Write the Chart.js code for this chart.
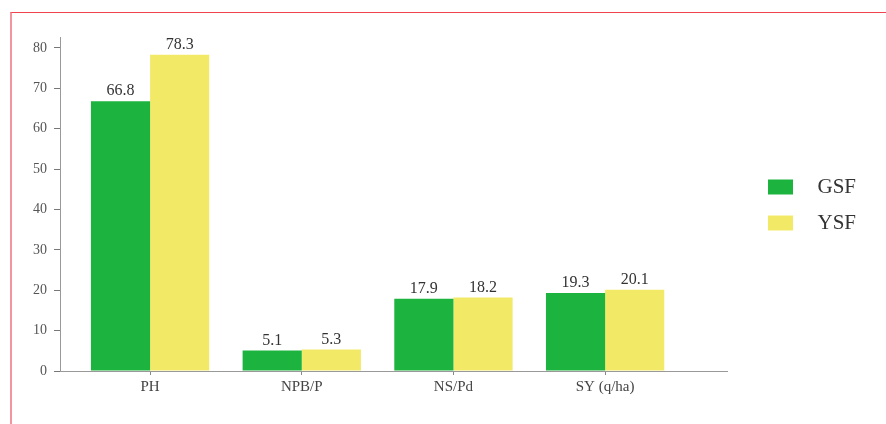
<!DOCTYPE html>
<html>
<head>
<meta charset="utf-8">
<script src="https://cdn.jsdelivr.net/npm/chart.js@4.4.1/dist/chart.umd.min.js"></script>
<style>
    body { margin: 0; background: #fff; }
    #wrap { position: relative; width: 886px; height: 424px; }
    #frame {
        position: absolute; left: 10px; top: 12px; right: 0; bottom: 0;
        border-top: 1px solid #ef4450;
        border-left: 2px solid #f3959d;
        pointer-events: none;
    }
</style>
</head>
<body>
<div id="wrap">
    <canvas id="barChart" width="886" height="424"></canvas>
    <div id="frame"></div>
</div>
<script>
// Chart values
const categories = ['PH', 'NPB/P', 'NS/Pd', 'SY (q/ha)'];
const gsfValues = [66.8, 5.1, 17.9, 19.3];
const ysfValues = [78.3, 5.3, 18.2, 20.1];
const seriesNames = ['GSF', 'YSF'];
const yTicks = [0, 10, 20, 30, 40, 50, 60, 70, 80];

const serif = "'Liberation Serif', 'Times New Roman', serif";

// Draw the value above each bar
const valueLabels = {
    id: 'valueLabels',
    afterDatasetsDraw(chart) {
        const ctx = chart.ctx;
        ctx.save();
        ctx.font = '16px ' + serif;
        ctx.fillStyle = '#333';
        ctx.textAlign = 'center';
        ctx.textBaseline = 'bottom';
        chart.data.datasets.forEach((ds, i) => {
            chart.getDatasetMeta(i).data.forEach((bar, j) => {
                ctx.fillText(ds.data[j].y.toFixed(1), bar.x, bar.y - 2);
            });
        });
        ctx.restore();
    }
};

// Move the legend away from the plot, as in the figure
const legendPlacement = {
    id: 'legendPlacement',
    afterLayout(chart) {
        const lg = chart.legend;
        lg.left = 753;
        lg.right = 856;
        lg.top -= 14;
        lg.bottom -= 14;
    }
};

const toPoints = values => values.map((v, i) => ({ x: i, y: v }));

const ctx = document.getElementById('barChart').getContext('2d');
new Chart(ctx, {
    type: 'bar',
    data: {
        datasets: [{
            label: seriesNames[0],
            data: toPoints(gsfValues),
            backgroundColor: '#1cb33f',
            borderWidth: 0,
            categoryPercentage: 0.78,
            barPercentage: 1.0
        }, {
            label: seriesNames[1],
            data: toPoints(ysfValues),
            backgroundColor: '#f2ea66',
            borderWidth: 0,
            categoryPercentage: 0.78,
            barPercentage: 1.0
        }]
    },
    options: {
        responsive: false,
        animation: false,
        layout: {
            padding: { left: 24, top: 37, right: 59, bottom: 23 }
        },
        scales: {
            x: {
                type: 'linear',
                offset: false,
                min: -0.594,
                max: 3.81,
                afterBuildTicks: scale => {
                    scale.ticks = categories.map((c, i) => ({ value: i }));
                },
                afterFit: scale => { scale.height = 30; },
                ticks: {
                    callback: value => categories[value],
                    color: '#444',
                    font: { family: serif, size: 15 },
                    padding: 3,
                    maxRotation: 0
                },
                grid: {
                    offset: false,
                    drawOnChartArea: false,
                    drawTicks: true,
                    tickLength: 4,
                    color: '#888'
                },
                border: { color: '#999', width: 1 }
            },
            y: {
                min: 0,
                max: 82.7,
                afterBuildTicks: scale => {
                    scale.ticks = yTicks.map(v => ({ value: v }));
                },
                afterFit: scale => { scale.width = 36; },
                ticks: {
                    color: '#555',
                    font: { family: serif, size: 14 },
                    padding: 7
                },
                grid: {
                    drawOnChartArea: false,
                    drawTicks: true,
                    tickLength: 6,
                    color: '#777'
                },
                border: { color: '#999', width: 1 }
            }
        },
        plugins: {
            legend: {
                position: 'right',
                labels: {
                    boxWidth: 25,
                    boxHeight: 15,
                    padding: 15,
                    color: '#333',
                    textAlign: 'right',
                    font: { family: serif, size: 21 }
                }
            },
            tooltip: { enabled: false }
        }
    },
    plugins: [valueLabels, legendPlacement]
});
</script>
</body>
</html>
